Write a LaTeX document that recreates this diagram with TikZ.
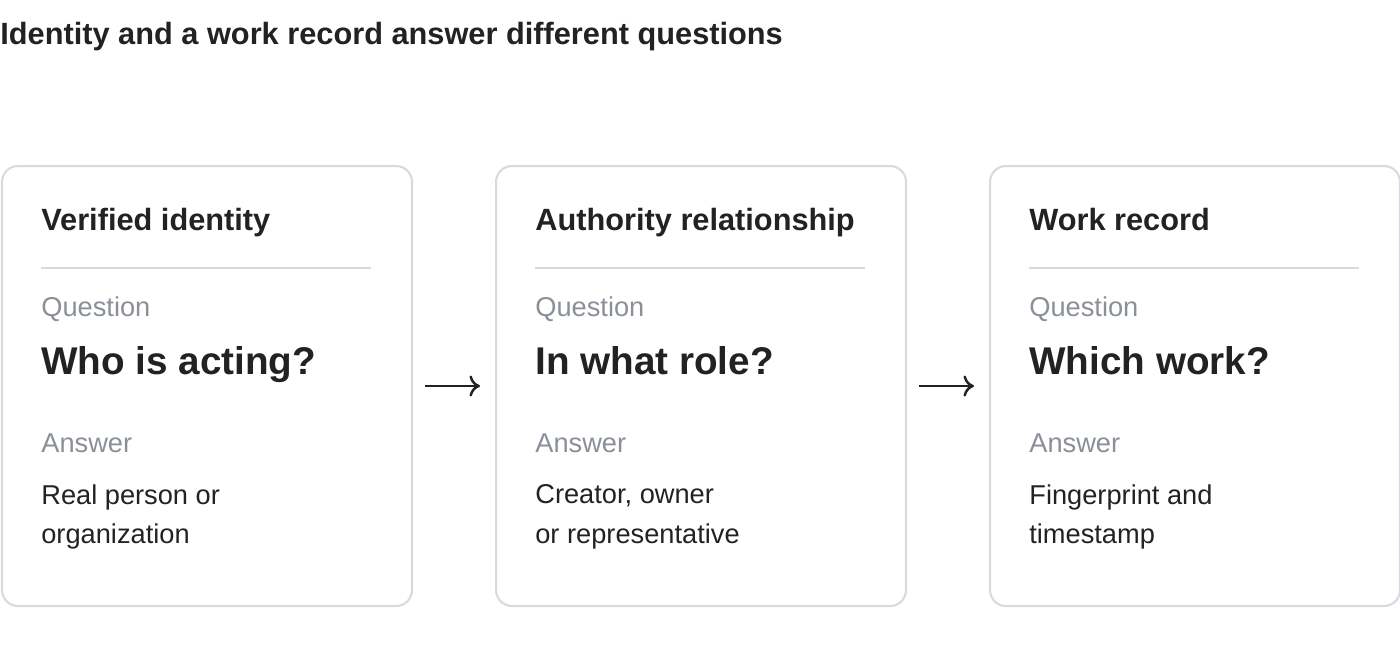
\documentclass[tikz,border=0pt]{standalone}
\usepackage{fontspec}
\setmainfont{Liberation Sans}
\usetikzlibrary{positioning,calc,arrows.meta}
\definecolor{cardline}{HTML}{D9DADF}
\definecolor{ink}{HTML}{222222}
\definecolor{muted}{HTML}{8A8F98}
\tikzset{
  card/.style={draw=cardline, line width=1.2pt, rounded corners=9pt,
    minimum width=8.2cm, minimum height=8.8cm, inner sep=0pt},
  heading/.style={anchor=base west, inner sep=0pt, text=ink, font=\bfseries\fontsize{17.5}{22}\selectfont},
  label/.style={anchor=base west, inner sep=0pt, text=muted, font=\fontsize{15.5}{18}\selectfont},
  question/.style={anchor=base west, inner sep=0pt, text=ink, font=\bfseries\fontsize{22}{28}\selectfont},
  answer/.style={anchor=north west, inner sep=0pt, text=ink, font=\fontsize{15.5}{22.7}\selectfont, align=left},
  flow/.style={-{To[length=6pt,width=12pt]}, line width=1.4pt, draw=ink}
}
\begin{document}
\begin{tikzpicture}[x=0.02cm, y=-0.02cm]
  \useasboundingbox (0,0) rectangle (1400,660);
  \node[anchor=base west, inner sep=0pt, text=ink, font=\bfseries\fontsize{17.5}{22}\selectfont] (title) at (0,44)
    {Identity and a work record answer different questions};

  \foreach \i/\x/\head/\ask/\reply in {
      1/1/Verified identity/Who is acting?/Real person or\\organization,
      2/495/Authority relationship/In what role?/{Creator, owner\\or representative},
      3/989/Work record/Which work?/Fingerprint and\\timestamp} {
    \node[card, anchor=north west] (card\i) at (\x,165) {};
    \node[heading] (head\i) at (\x+40,230) {\head};
    \draw[cardline, line width=1pt] (\x+40,268) -- (\x+370,268);
    \node[label] (qlabel\i) at (\x+40,316) {Question};
    \node[question] (ask\i) at (\x+40,374) {\ask};
    \node[label] (alabel\i) at (\x+40,452) {Answer};
    \node[answer] (reply\i) at (\x+40,484) {\reply};
  }

  \draw[flow] ($(card1.east)+(12,0)$) -- ($(card2.west)+(-15,0)$);
  \draw[flow] ($(card2.east)+(12,0)$) -- ($(card3.west)+(-15,0)$);
\end{tikzpicture}
\end{document}
